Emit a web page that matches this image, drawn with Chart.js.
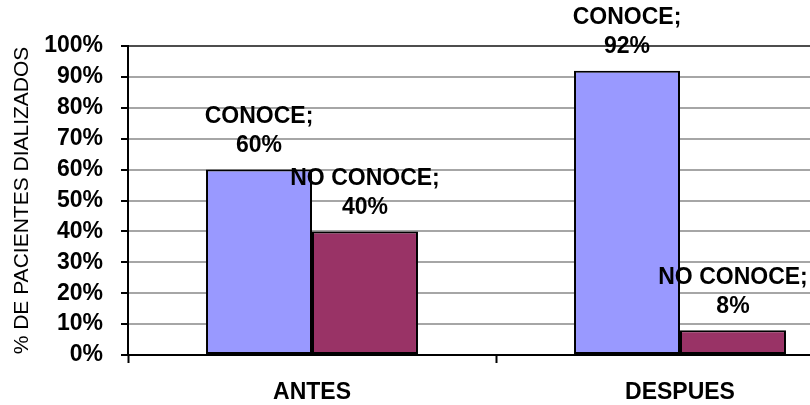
<!DOCTYPE html>
<html>
<head>
<meta charset="utf-8">
<script src="https://cdn.jsdelivr.net/npm/chart.js@4/dist/chart.umd.min.js"></script>
<style>
  html, body { margin: 0; padding: 0; background: #fff; overflow: hidden; }
  #wrap { width: 864px; height: 405px; }
</style>
</head>
<body>
<div id="wrap"><canvas id="c" width="864" height="405"></canvas></div>
<script>
// Categories, series and axis text
const categories = ['ANTES', 'DESPUES'];
const seriesNames = ['CONOCE', 'NO CONOCE'];
const conoce = [60, 92];
const noConoce = [40, 8];
const yTicks = [0, 10, 20, 30, 40, 50, 60, 70, 80, 90, 100];
const yTitle = '% DE PACIENTES DIALIZADOS';

const FONT = "'Liberation Sans', Arial, sans-serif";

// Two-line value labels above each bar: "SERIE;" then "NN%"
const barLabels = {
  id: 'barLabels',
  afterDraw(chart) {
    const ctx = chart.ctx;
    ctx.save();
    ctx.font = 'bold 23px ' + FONT;
    ctx.fillStyle = '#000';
    ctx.textAlign = 'center';
    ctx.textBaseline = 'middle';
    chart.data.datasets.forEach((ds, di) => {
      chart.getDatasetMeta(di).data.forEach((bar, i) => {
        const v = ds.data[i];
        ctx.fillText(v + '%', bar.x, bar.y - 24);
        ctx.fillText(ds.label + ';', bar.x, bar.y - 53);
      });
    });
    ctx.restore();
  }
};

new Chart(document.getElementById('c'), {
  type: 'bar',
  data: {
    labels: categories,
    datasets: [
      { label: seriesNames[0], data: conoce, backgroundColor: '#9999ff',
        borderColor: '#000', borderWidth: 2, borderSkipped: false },
      { label: seriesNames[1], data: noConoce, backgroundColor: '#993366',
        borderColor: '#000', borderWidth: 2, borderSkipped: false }
    ]
  },
  options: {
    responsive: false,
    animation: false,
    devicePixelRatio: 1,
    layout: { padding: { top: 46, right: 0, bottom: 0, left: 0 } },
    categoryPercentage: 0.576,
    barPercentage: 1.0,
    plugins: {
      legend: { display: false },
      tooltip: { enabled: false }
    },
    scales: {
      x: {
        grid: {
          display: true, drawOnChartArea: false, offset: true,
          tickColor: '#000', tickLength: 8, tickWidth: 2
        },
        border: { display: true, color: '#000', width: 2 },
        ticks: {
          color: '#000', padding: 16,
          font: { family: FONT, size: 23, weight: 'bold' }
        },
        afterFit(scale) { scale.height = 50; }
      },
      y: {
        min: 0, max: 100,
        afterBuildTicks(scale) { scale.ticks = yTicks.map(v => ({ value: v })); },
        grid: {
          color: ctx => ctx.tick && ctx.tick.value === 100 ? '#4d4d4d'
                      : (ctx.tick && ctx.tick.value === 0 ? '#000' : '#a6a6a6'),
          lineWidth: 2,
          tickColor: '#000', tickLength: 7, tickWidth: 2
        },
        border: { display: true, color: '#000', width: 2 },
        ticks: {
          color: '#000', padding: 18,
          font: { family: FONT, size: 23, weight: 'bold' },
          callback: v => v + '%'
        },
        title: {
          display: true, text: yTitle, color: '#000',
          font: { family: FONT, size: 21, weight: 'normal' },
          padding: { top: 10, bottom: 0 }
        },
        afterFit(scale) { scale.width = 128; }
      }
    }
  },
  plugins: [barLabels]
});
</script>
</body>
</html>
